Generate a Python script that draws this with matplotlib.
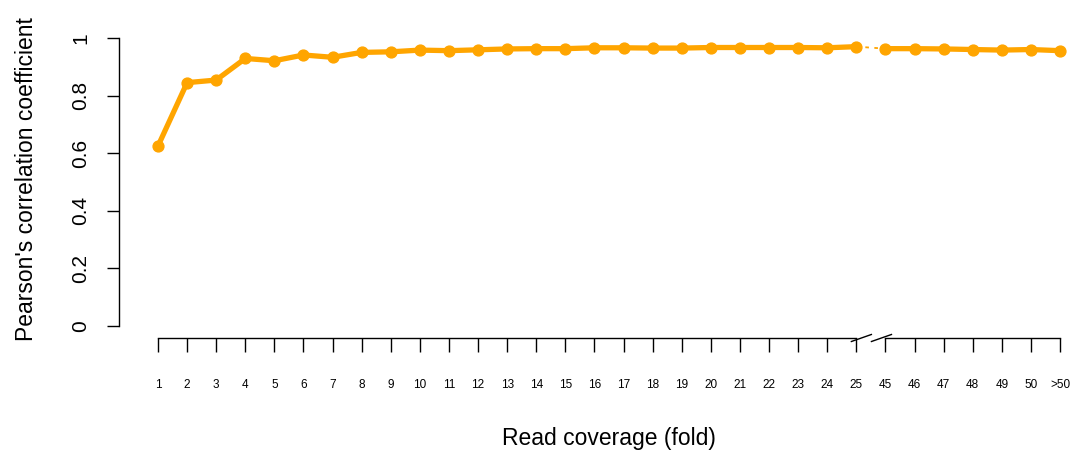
import matplotlib
matplotlib.use("Agg")
import matplotlib.pyplot as plt

# Coverage categories (x axis has a break between 25 and 45)
coverage_low = [str(i) for i in range(1, 26)]
coverage_high = ["45", "46", "47", "48", "49", "50", ">50"]

# Pearson's correlation coefficient per coverage level
pearson_low = [0.625, 0.845, 0.854, 0.929, 0.921, 0.941, 0.933, 0.950, 0.952, 0.958,
               0.956, 0.959, 0.962, 0.963, 0.963, 0.966, 0.966, 0.965, 0.965, 0.967,
               0.967, 0.967, 0.967, 0.966, 0.970]
pearson_high = [0.963, 0.963, 0.962, 0.960, 0.958, 0.960, 0.956]

y_ticks = [0, 0.2, 0.4, 0.6, 0.8, 1.0]
y_ticklabels = ["0", "0.2", "0.4", "0.6", "0.8", "1"]

plt.rcParams["font.family"] = ["Liberation Sans", "DejaVu Sans"]

W, H = 1074, 458
PX = 0.72  # points per pixel at dpi 100
fig = plt.figure(figsize=(W / 100, H / 100), dpi=100)
ax = fig.add_axes([158 / W, (H - 326) / H, 902 / W, 288 / H])

labels = coverage_low + coverage_high
pos = list(range(1, len(labels) + 1))
pos_low = pos[:len(coverage_low)]
pos_high = pos[len(coverage_low):]

orange = "#FFA500"
ax.plot(pos_low, pearson_low, color=orange, lw=3.8, marker="o", ms=7.8,
        solid_capstyle="round", clip_on=False, zorder=3)
ax.plot(pos_high, pearson_high, color=orange, lw=3.8, marker="o", ms=7.8,
        solid_capstyle="round", clip_on=False, zorder=3)
ax.plot([pos_low[-1], pos_high[0]], [pearson_low[-1], pearson_high[0]],
        color=orange, lw=1.3, ls=(0, (2, 3)), clip_on=False, zorder=2)

ax.set_xlim(1, len(labels))
ax.set_ylim(0, 1)

# Left axis
for s in ["top", "right"]:
    ax.spines[s].set_visible(False)
ax.spines["left"].set_position(("outward", 39 * PX))
ax.spines["left"].set_bounds(0, 1)
ax.spines["left"].set_linewidth(1.0)
ax.set_yticks(y_ticks)
ax.set_yticklabels(y_ticklabels, rotation=90, va="center", fontsize=15)
ax.tick_params(axis="y", length=12 * PX, width=1.0, pad=12)

# Bottom axis with a break between 25 and 45
ax.spines["bottom"].set_position(("outward", 12 * PX))
ax.spines["bottom"].set_visible(False)
ax.set_xticks(pos)
ax.set_xticklabels(labels, fontsize=8.5)
ax.tick_params(axis="x", length=14 * PX, width=1.0, pad=19.5)

axis_y = -12 / 288
ax.plot([pos_low[0], pos_low[-1]], [axis_y, axis_y], color="black", lw=1.0,
        clip_on=False)
ax.plot([pos_high[0], pos_high[-1]], [axis_y, axis_y], color="black", lw=1.0,
        clip_on=False)
dx = 20 / 29.1
dy = 7 / 288
for xc in (pos_low[-1] - 0.17, pos_low[-1] + 0.52):
    ax.plot([xc, xc + dx], [axis_y - dy / 2, axis_y + dy / 2],
            color="black", lw=1.0, clip_on=False)

ax.set_ylabel("Pearson's correlation coefficient", fontsize=16.5)
ax.yaxis.set_label_coords(-0.133, 0.51)
ax.set_xlabel("Read coverage (fold)", fontsize=16.5)
ax.xaxis.set_label_coords(0.5, -0.352)

fig.savefig("out.png", dpi=100)
